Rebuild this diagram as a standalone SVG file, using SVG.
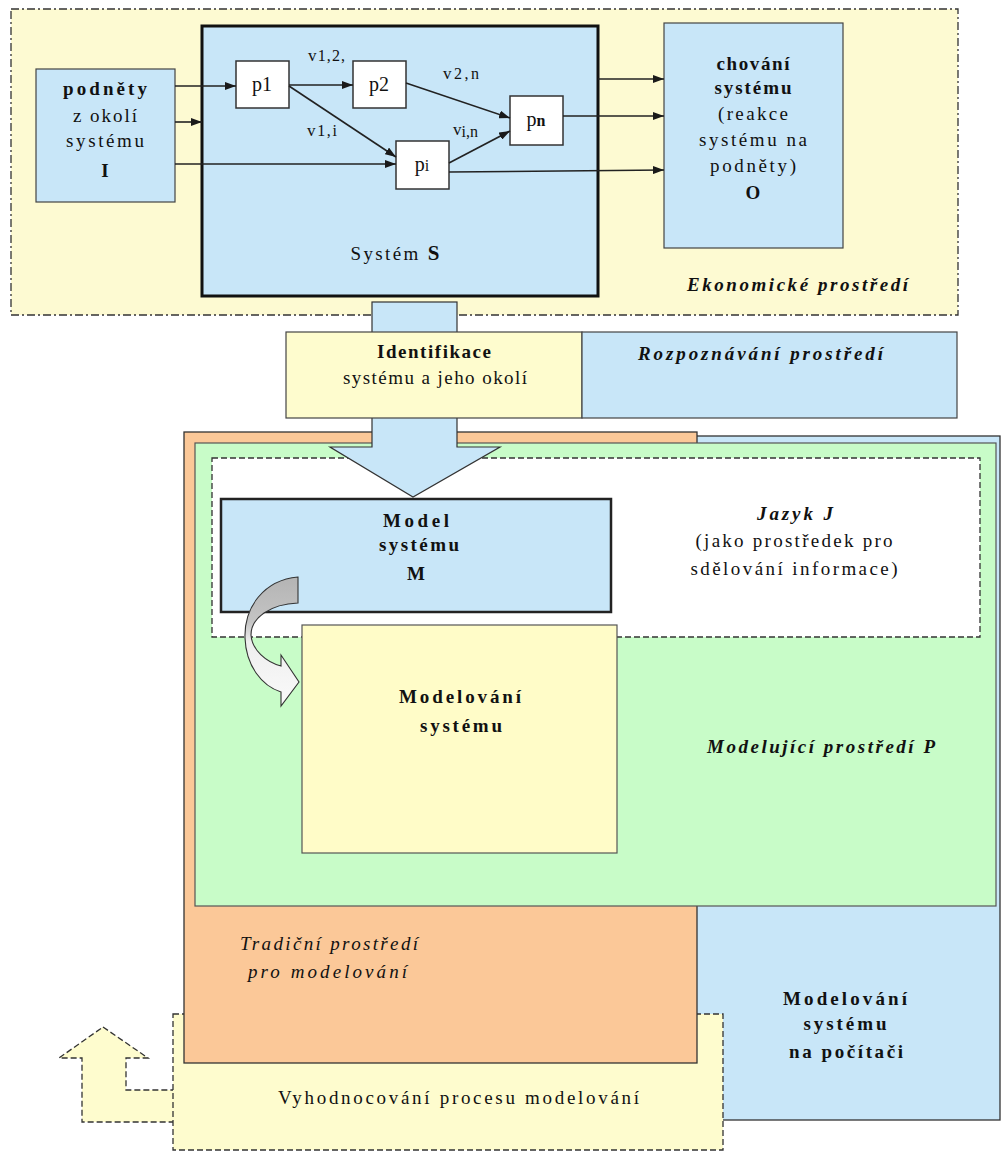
<svg xmlns="http://www.w3.org/2000/svg" width="1002" height="1153" viewBox="0 0 1002 1153">
<defs>
<marker id="ah" markerWidth="11" markerHeight="8" refX="11" refY="4" orient="auto" markerUnits="userSpaceOnUse"><path d="M0,0 L11,4 L0,8 z" fill="#1a1a1a"/></marker>
<linearGradient id="cg" x1="0" y1="0" x2="0" y2="1">
<stop offset="0" stop-color="#b4b4b4"/>
<stop offset="0.35" stop-color="#c4c4c4"/>
<stop offset="0.5" stop-color="#eeeeee"/>
<stop offset="1" stop-color="#fafafa"/>
</linearGradient>
</defs>
<style>
text{font-family:"Liberation Serif","DejaVu Serif","Noto Serif",serif;fill:#111;font-size:19px}
.c{text-anchor:middle}
.b{font-weight:bold}
.i{font-style:italic}
.m{font-size:20px}
.v{font-size:17px}
.box{stroke:#444;stroke-width:1.2}
.blue{fill:#c8e6f8}
.yel{fill:#fefcce}
.node{fill:#ffffff;stroke:#333;stroke-width:1.5}
.con{stroke:#222;stroke-width:1.6;fill:none;marker-end:url(#ah)}
.dash{stroke:#333;stroke-width:1.3;stroke-dasharray:6,3}
</style>
<rect width="1002" height="1153" fill="#ffffff"/>

<g id="ekonomicke-prostredi">
<rect x="11" y="9" width="947" height="306" fill="#fdfad2" stroke="#333" stroke-width="1.3" stroke-dasharray="8,3,2,3"/>
<text class="b i" x="687" y="291" font-size="20" textLength="221">Ekonomické prostředí</text>
</g>

<g id="system-s">
<rect x="202" y="26" width="396" height="270" class="blue" stroke="#111" stroke-width="3"/>
<text class="c" x="395" y="260" textLength="89">Systém <tspan class="b" font-size="21">S</tspan></text>
</g>

<g id="podnety">
<rect x="36" y="69" width="139" height="133" class="blue box"/>
<text class="c b" x="105" y="95" textLength="84">podněty</text>
<text class="c" x="105" y="122" textLength="64">z okolí</text>
<text class="c" x="105" y="147" textLength="78">systému</text>
<text class="c b" x="105" y="177" font-size="21">I</text>
</g>

<g id="chovani">
<rect x="664" y="23" width="179" height="225" class="blue box"/>
<text class="c b" x="753" y="70" textLength="73">chování</text>
<text class="c b" x="753" y="94" textLength="77">systému</text>
<text class="c" x="753" y="120" textLength="70">(reakce</text>
<text class="c" x="753" y="146" textLength="108">systému na</text>
<text class="c" x="753" y="172" textLength="86">podněty)</text>
<text class="c b" x="753" y="199" font-size="21">O</text>
</g>

<g id="p1"><rect x="236" y="61" width="53" height="47" class="node"/><text class="m c" x="262" y="91">p1</text></g>
<g id="p2"><rect x="353" y="61" width="53" height="47" class="node"/><text class="m c" x="379" y="91">p2</text></g>
<g id="pi"><rect x="396" y="141" width="53" height="48" class="node"/><text class="m c" x="422" y="171">p<tspan font-size="16">i</tspan></text></g>
<g id="pn"><rect x="510" y="96" width="53" height="49" class="node"/><text class="m c" x="536" y="126">p<tspan font-size="16" font-weight="bold">n</tspan></text></g>

<g id="connectors">
<line class="con" x1="175" y1="86" x2="236" y2="86"/>
<line class="con" x1="175" y1="122" x2="202" y2="122"/>
<line class="con" x1="175" y1="164" x2="396" y2="164"/>
<line class="con" x1="289" y1="85" x2="353" y2="85"/>
<line class="con" x1="289" y1="86" x2="396" y2="157"/>
<line class="con" x1="406" y1="83" x2="510" y2="118"/>
<line class="con" x1="449" y1="163" x2="510" y2="131"/>
<line class="con" x1="598" y1="79" x2="664" y2="79"/>
<line class="con" x1="563" y1="116" x2="664" y2="116"/>
<line class="con" x1="449" y1="172" x2="664" y2="170"/>
<text class="v" x="308" y="61" textLength="37">v<tspan font-size="16">1,2,</tspan></text>
<text class="v" x="443" y="79" textLength="36">v<tspan font-size="16">2,n</tspan></text>
<text class="v" x="307" y="136" textLength="30">v<tspan font-size="16">1,i</tspan></text>
<text class="v" x="453" y="135">v<tspan font-size="16" dy="2">i,n</tspan></text>
</g>

<g id="shaft-top">
<rect x="372" y="302" width="85" height="32" class="blue" stroke="#333" stroke-width="1.2"/>
</g>

<g id="modelovani-na-pocitaci">
<rect x="500" y="436" width="500" height="684" class="blue" stroke="#333" stroke-width="1.3"/>
<text class="c b" x="845" y="1005" font-size="20" textLength="124">Modelování</text>
<text class="c b" x="845" y="1030" font-size="20" textLength="83">systému</text>
<text class="c b" x="846" y="1058" font-size="20" textLength="114">na počítači</text>
</g>

<g id="zpetna-vazba">
<path d="M103,1027 L148,1058 L126,1058 L126,1090 L215,1090 L215,1122 L82,1122 L82,1058 L59,1058 Z" class="yel dash"/>
</g>

<g id="vyhodnocovani">
<rect x="173" y="1014" width="550" height="136" class="yel dash"/>
<text x="278" y="1104" textLength="361">Vyhodnocování procesu modelování</text>
</g>

<g id="tradicni-prostredi">
<rect x="184" y="432" width="513" height="631" fill="#fbc898" stroke="#333" stroke-width="1.3"/>
<text class="i" x="240" y="950" textLength="178">Tradiční prostředí</text>
<text class="i" x="248" y="978" textLength="159">pro modelování</text>
</g>

<g id="modelujici-prostredi">
<rect x="195" y="443" width="801" height="463" fill="#c8fcc8" stroke="#555" stroke-width="1.2"/>
<text class="b i" x="707" y="753" font-size="21" textLength="228">Modelující prostředí P</text>
</g>

<g id="jazyk">
<rect x="212" y="458" width="768" height="179" fill="#ffffff" class="dash"/>
<text class="c b i" x="795" y="520" font-size="20" textLength="76">Jazyk J</text>
<text class="c" x="794" y="547" textLength="197">(jako prostředek pro</text>
<text class="c" x="794" y="575" textLength="207">sdělování informace)</text>
</g>

<g id="identifikace-sipka">
<path d="M372,417 L457,417 L457,447 L500,447 L413,497 L330,447 L372,447 Z" class="blue" stroke="#333" stroke-width="1.2"/>
</g>

<g id="identifikace">
<rect x="286" y="332" width="296" height="86" class="yel box"/>
<text class="c b" x="434" y="358" font-size="20" textLength="114">Identifikace</text>
<text class="c" x="435" y="384" font-size="20" textLength="184">systému a jeho okolí</text>
</g>

<g id="rozpoznavani">
<rect x="582" y="332" width="375" height="86" class="blue box"/>
<text class="b i" x="638" y="360" font-size="20" textLength="245">Rozpoznávání prostředí</text>
</g>

<g id="model">
<rect x="221" y="499" width="390" height="113" class="blue" stroke="#222" stroke-width="2.5"/>
<text class="c b" x="416" y="527" font-size="22" textLength="66">Model</text>
<text class="c b" x="419" y="551" font-size="22" textLength="80">systému</text>
<text class="c b" x="416" y="580" font-size="22">M</text>
</g>

<g id="modelovani">
<rect x="302" y="625" width="315" height="228" fill="#fffcc8" stroke="#555" stroke-width="1.2"/>
<text class="c b" x="460" y="703" font-size="21" textLength="122">Modelování</text>
<text class="c b" x="461" y="732" font-size="21" textLength="82">systému</text>
</g>

<g id="zakriveni">
<path d="M298,577 C264,580 244,607 245,638 C246,666 262,686 281,692 L281,706 L299,682 L281,655 L281,666 C266,662 252,650 251,635 C251,618 270,604 298,603 Z" fill="url(#cg)" stroke="#333" stroke-width="1.1"/>
</g>
</svg>
